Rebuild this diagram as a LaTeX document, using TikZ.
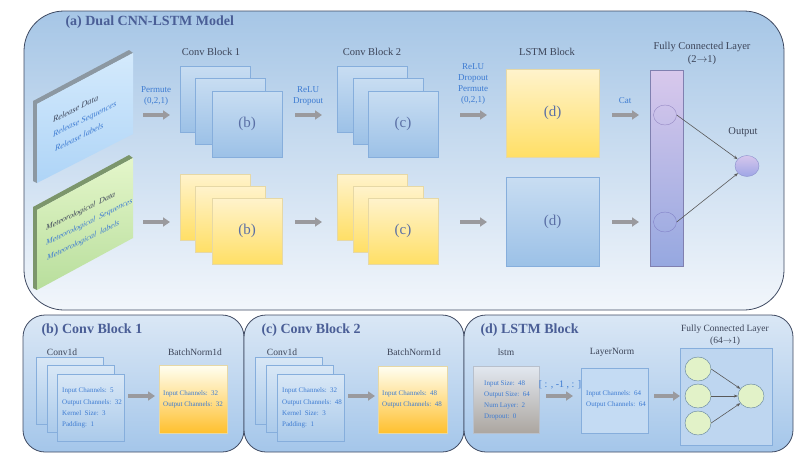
\documentclass[tikz,border=0pt]{standalone}
\usepackage{fontspec}
\setmainfont{Liberation Serif}
\usetikzlibrary{arrows.meta,shapes.geometric}
\definecolor{ttl}{HTML}{4A5E96}
\definecolor{hd}{HTML}{3C4458}
\definecolor{lbl}{HTML}{3D7BD2}
\definecolor{lt}{HTML}{5A6FA5}
\definecolor{edge}{HTML}{3F4A62}
\definecolor{arrowgray}{HTML}{9A9A9E}
\definecolor{sqbd}{HTML}{86AEDC}
\definecolor{sqbt}{HTML}{C8DDF2}
\definecolor{sqbb}{HTML}{9CC1E7}
\definecolor{sqyd}{HTML}{E6D8A6}
\definecolor{sqyt}{HTML}{FFF3CC}
\definecolor{sqyb}{HTML}{FFDF66}
\definecolor{fcg}{HTML}{E2F2C8}
\definecolor{fcgd}{HTML}{5F7F9A}
\definecolor{bluestrip}{HTML}{8C98A2}
\definecolor{greenstrip}{HTML}{7C966C}
\begin{document}
\begin{tikzpicture}[x=1pt,y=-1pt,
  panel/.style={draw=edge, line width=0.8pt},
  box/.style={draw, inner sep=0pt, outer sep=0pt, anchor=north west},
  sqb/.style={box, draw=sqbd, top color=sqbt, bottom color=sqbb, minimum width=70pt, minimum height=66pt},
  sqy/.style={box, draw=sqyd, top color=sqyt, bottom color=sqyb, minimum width=70pt, minimum height=66pt},
  sqs/.style={box, draw=sqbd, top color=sqbt!70!white, bottom color=sqbb!85!white, minimum width=67pt, minimum height=67pt},
  bn/.style={box, draw=sqyd, top color=yellow!5!white, bottom color={rgb,255:red,255;green,192;blue,46}},
  fat/.style={draw=arrowgray, line width=3.2pt, -{Triangle[length=7pt,width=9pt]}},
  conn/.style={draw=black!65, line width=0.6pt, -{Stealth[length=4pt,width=3pt]}},
  hdg/.style={font=\fontsize{10.5}{12}\selectfont, text=hd},
  ptitle/.style={font=\fontsize{14}{16}\selectfont\bfseries, text=ttl, anchor=west},
  lab/.style={font=\fontsize{9}{10.7}\selectfont, text=lbl, align=center},
  big/.style={font=\fontsize{15}{17}\selectfont, text=lt},
  small/.style={font=\fontsize{7}{11.2}\selectfont, text=lbl, align=left, anchor=west, inner sep=0pt},
  sub/.style={font=\fontsize{9.5}{11}\selectfont, text=hd},
  slt/.style={yslant=0.5, anchor=base west, inner sep=0pt, font=\fontsize{8.4}{10}\selectfont\itshape},
  fcc/.style={ellipse, draw=fcgd, fill=fcg, minimum width=26pt, minimum height=24pt, inner sep=0pt}
]
\useasboundingbox (0,0) rectangle (805,463);

% ---------------- panel (a)
\node[panel, box, rounded corners=40pt, top color={rgb,255:red,166;green,198;blue,230}, bottom color={rgb,255:red,242;green,246;blue,251}, minimum width=760pt, minimum height=299pt] (pa) at (24,11) {};
\node[ptitle] (ta) at (62,22) {(a) Dual CNN-LSTM Model};

% input panels
\fill[bluestrip] (33,101) -- (129,50) -- (133,53) -- (37,104) -- (37,183) -- (33,181) -- cycle;
\shade[top color={rgb,255:red,212;green,234;blue,252}, bottom color={rgb,255:red,174;green,212;blue,247}] (37,104) -- (133,53) -- (133,134) -- (37,183) -- cycle;
\fill[greenstrip] (33,207) -- (129,155) -- (133,158) -- (37,210) -- (37,290) -- (33,288) -- cycle;
\shade[top color={rgb,255:red,228;green,246;blue,202}, bottom color={rgb,255:red,184;green,222;blue,156}] (37,210) -- (133,158) -- (133,238) -- (37,290) -- cycle;
\node[slt, text=hd] (r1) at (53,123) {Release Data};
\node[slt, text=lbl] (r2) at (53,137.5) {Release Sequences};
\node[slt, text=lbl] (r3) at (55,152) {Release labels};
\node[slt, text=hd, font=\fontsize{8}{10}\selectfont\itshape] (m1) at (46,231) {Meteorological\ \ Data};
\node[slt, text=lbl, font=\fontsize{8}{10}\selectfont\itshape] (m2) at (46,246) {Meteorological\ \ Sequences};
\node[slt, text=lbl, font=\fontsize{8}{10}\selectfont\itshape] (m3) at (47,261) {Meteorological\ \ labels};

% headings
\node[hdg] (h1) at (211,52) {Conv Block 1};
\node[hdg] (h2) at (372,52) {Conv Block 2};
\node[hdg] (h3) at (547,52) {LSTM Block};
\node[hdg, align=center, font=\fontsize{10.5}{13}\selectfont] (h4) at (702,53) {Fully Connected Layer\\(2\(\rightarrow\)1)};
\node[hdg] (hout) at (743,132) {Output};

% conv block 1
\node[sqb] (b11) at (180,66) {};
\node[sqb] (b12) at (195,78) {};
\node[sqb] (b13) at (212,91) {};
\node[big] at (b13) {(b)};
\node[sqy] (b21) at (180,174) {};
\node[sqy] (b22) at (195,186) {};
\node[sqy] (b23) at (212,198) {};
\node[big] at (b23) {(b)};
% conv block 2
\node[sqb] (c11) at (337,66) {};
\node[sqb] (c12) at (353,78) {};
\node[sqb] (c13) at (368,91) {};
\node[big] at (c13) {(c)};
\node[sqy] (c21) at (337,174) {};
\node[sqy] (c22) at (353,186) {};
\node[sqy] (c23) at (368,198) {};
\node[big] at (c23) {(c)};
% lstm
\node[box, draw=sqyd, top color=sqyt, bottom color=sqyb, minimum width=93pt, minimum height=88pt] (d1) at (506,69) {};
\node[big] at (d1) {(d)};
\node[box, draw=sqbd, top color=sqbt, bottom color=sqbb, minimum width=93pt, minimum height=89pt] (d2) at (506,177) {};
\node[big] at (d2) {(d)};
% fc bar
\node[box, draw={rgb,255:red,128;green,128;blue,176}, top color={rgb,255:red,216;green,200;blue,236}, bottom color={rgb,255:red,150;green,168;blue,224}, minimum width=33pt, minimum height=196pt] (fc) at (650,70) {};
\node[ellipse, draw={rgb,255:red,150;green,138;blue,196}, minimum width=23pt, minimum height=20pt, inner sep=0pt] (u1) at (665,115) {};
\node[ellipse, draw={rgb,255:red,130;green,130;blue,200}, minimum width=23pt, minimum height=20pt, inner sep=0pt] (u2) at (665,222) {};
\node[ellipse, draw={rgb,255:red,138;green,144;blue,204}, top color={rgb,255:red,214;green,198;blue,236}, bottom color={rgb,255:red,158;green,166;blue,230}, minimum width=24pt, minimum height=21pt, inner sep=0pt] (out) at (747,166) {};
\draw[conn] (u1.east) -- (out);
\draw[conn] (u2.east) -- (out);

% arrows top and bottom
\coordinate (a1s) at (143,115); \coordinate (a1e) at (170,115);
\coordinate (a2s) at (295,115); \coordinate (a2e) at (322,115);
\coordinate (a3s) at (460,115); \coordinate (a3e) at (487,115);
\coordinate (a4s) at (612,115); \coordinate (a4e) at (639,115);
\coordinate (g1s) at (143,222); \coordinate (g1e) at (170,222);
\coordinate (g2s) at (295,222); \coordinate (g2e) at (322,222);
\coordinate (g3s) at (460,222); \coordinate (g3e) at (487,222);
\coordinate (g4s) at (612,222); \coordinate (g4e) at (639,222);
\foreach \s/\e in {a1s/a1e,a2s/a2e,a3s/a3e,a4s/a4e,g1s/g1e,g2s/g2e,g3s/g3e,g4s/g4e}
  \draw[fat] (\s) -- (\e);
\node[lab] (l1) at (156,96) {Permute\\(0,2,1)};
\node[lab] (l2) at (308,96) {ReLU\\Dropout};
\node[lab] (l3) at (473,84) {ReLU\\Dropout\\Permute\\(0,2,1)};
\node[lab] (l4) at (625,101) {Cat};

% ---------------- panel (b)
\node[panel, box, rounded corners=22pt, top color={rgb,255:red,218;green,231;blue,245}, bottom color={rgb,255:red,164;green,198;blue,234}, minimum width=221pt, minimum height=137pt] (pb) at (23,315) {};
\node[ptitle] at (38,330) {(b) Conv Block 1};
\node[sub] at (62,352) {Conv1d};
\node[sub] at (195,352) {BatchNorm1d};
\node[sqs] (bs1) at (36,357) {};
\node[sqs] (bs2) at (47,365) {};
\node[sqs] (bs3) at (57,374) {};
\node[small] at (62,408) {Input Channels:\ \ 5\\Output Channels:\ \ 32\\Kernel\ \ Size:\ \ 3\\Padding:\ \ 1};
\node[bn, minimum width=68pt, minimum height=68pt] (bbn) at (159,365) {};
\node[small, font=\fontsize{7}{11}\selectfont] at (163,399) {Input Channels:\ \ 32\\Output Channels:\ \ 32};
\coordinate (p1s) at (128,396); \coordinate (p1e) at (155,396);
\draw[fat] (p1s) -- (p1e);

% ---------------- panel (c)
\node[panel, box, rounded corners=22pt, top color={rgb,255:red,218;green,231;blue,245}, bottom color={rgb,255:red,164;green,198;blue,234}, minimum width=220pt, minimum height=137pt] (pc) at (244,315) {};
\node[ptitle] at (258,330) {(c) Conv Block 2};
\node[sub] at (282,352) {Conv1d};
\node[sub] at (414,352) {BatchNorm1d};
\node[sqs] (cs1) at (255,357) {};
\node[sqs] (cs2) at (266,365) {};
\node[sqs] (cs3) at (277,374) {};
\node[small] at (282,408) {Input Channels:\ \ 32\\Output Channels:\ \ 48\\Kernel\ \ Size:\ \ 3\\Padding:\ \ 1};
\node[bn, minimum width=69pt, minimum height=67pt] (cbn) at (378,366) {};
\node[small, font=\fontsize{7}{11}\selectfont] at (382,399) {Input Channels:\ \ 48\\Output Channels:\ \ 48};
\coordinate (p2s) at (348,396); \coordinate (p2e) at (375,396);
\draw[fat] (p2s) -- (p2e);

% ---------------- panel (d)
\node[panel, box, rounded corners=22pt, top color={rgb,255:red,218;green,231;blue,245}, bottom color={rgb,255:red,164;green,198;blue,234}, minimum width=329pt, minimum height=137pt] (pd) at (464,315) {};
\node[ptitle] at (477,330) {(d) LSTM Block};
\node[sub] at (506,352) {lstm};
\node[sub] at (612,352) {LayerNorm};
\node[hdg, align=center, font=\fontsize{9.5}{12}\selectfont] at (725,335) {Fully Connected Layer\\(64\(\rightarrow\)1)};
\node[box, draw={rgb,255:red,184;green,192;blue,204}, top color={rgb,255:red,226;green,232;blue,240}, bottom color={rgb,255:red,172;green,166;blue,160}, minimum width=66pt, minimum height=67pt] (ls) at (473,366) {};
\node[small, font=\fontsize{7}{11}\selectfont] at (484,400) {Input Size:\ \ 48\\Output Size:\ \ 64\\Num Layer:\ \ 2\\Dropout:\ \ 0};
\node[font=\fontsize{10}{12}\selectfont, text=lbl] at (560,385) {[ : , -1 , : ]};
\node[box, draw=sqbd, fill={rgb,255:red,196;green,219;blue,243}, minimum width=67pt, minimum height=65pt] (ln) at (581,368) {};
\node[small, font=\fontsize{7}{11}\selectfont] at (586,399) {Input Channels:\ \ 64\\Output Channels:\ \ 64};
\node[box, draw=sqbd, fill={rgb,255:red,190;green,214;blue,240}, minimum width=92pt, minimum height=97pt] (fcb) at (680,348) {};
\coordinate (p3s) at (546,396); \coordinate (p3e) at (573,396);
\coordinate (p4s) at (654,396); \coordinate (p4e) at (680,396);
\draw[fat] (p3s) -- (p3e);
\draw[fat] (p4s) -- (p4e);
\node[fcc] (n1) at (698,369) {};
\node[fcc] (n2) at (698,396) {};
\node[fcc] (n3) at (698,423) {};
\node[fcc] (n4) at (751,396) {};
\draw[conn] (n1.east) -- (n4);
\draw[conn] (n2.east) -- (n4);
\draw[conn] (n3.east) -- (n4);
\end{tikzpicture}
\end{document}
